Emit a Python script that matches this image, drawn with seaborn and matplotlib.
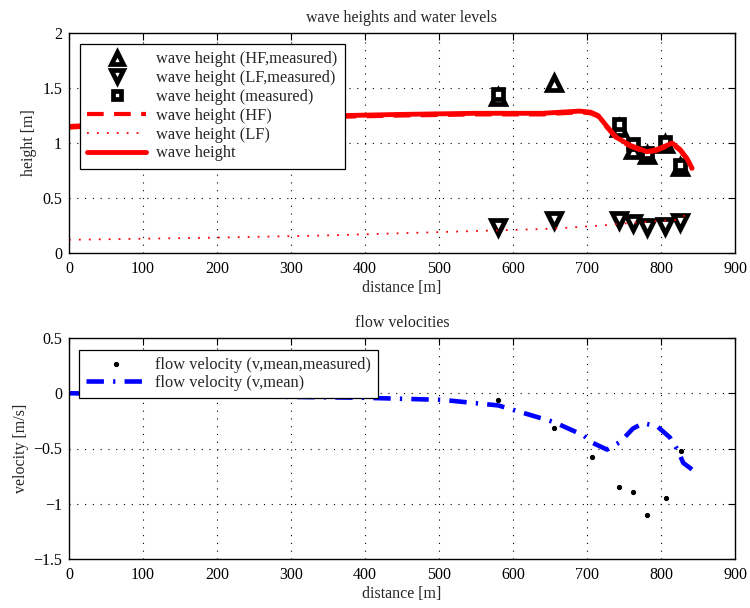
import numpy as np
import pandas as pd
import matplotlib
matplotlib.use("Agg")
import matplotlib.pyplot as plt
import seaborn as sns

sns.set_style("white")
plt.rcParams['font.family'] = ['Liberation Serif', 'DejaVu Serif']
plt.rcParams['font.size'] = 11.5
plt.rcParams['axes.unicode_minus'] = True

# ---- data: wave heights ----
meas_x = [580, 655, 743, 762, 781, 806, 826]
hf_meas = [1.42, 1.55, 1.14, 0.94, 0.89, 0.99, 0.78]
lf_meas = [0.24, 0.30, 0.30, 0.27, 0.24, 0.25, 0.28]
hs_meas_x = [580, 743, 762, 781, 806, 826]
hs_meas = [1.45, 1.17, 0.99, 0.91, 1.01, 0.80]

model_x = [0, 50, 100, 200, 300, 375, 450, 550, 640, 690, 705, 715, 727, 740, 758, 781, 794, 805, 815, 826, 835, 842]
hs_model = [1.15, 1.17, 1.19, 1.22, 1.24, 1.25, 1.26, 1.27, 1.27, 1.29, 1.28, 1.25, 1.15, 1.05, 0.98, 0.92, 0.94, 0.97, 1.00, 0.94, 0.86, 0.77]
hf_model = [1.14, 1.16, 1.18, 1.21, 1.23, 1.24, 1.25, 1.26, 1.26, 1.28, 1.27, 1.24, 1.14, 1.04, 0.97, 0.91, 0.93, 0.96, 0.99, 0.93, 0.85, 0.76]
lf_x = [0, 100, 200, 350, 450, 550, 650, 720, 770, 820, 835, 842]
lf_model = [0.12, 0.13, 0.14, 0.16, 0.18, 0.20, 0.22, 0.25, 0.28, 0.30, 0.35, 0.33]

# ---- data: velocities ----
vel_meas_x = [580, 655, 707, 743, 762, 781, 807, 827]
vel_meas = [-0.06, -0.31, -0.58, -0.85, -0.89, -1.10, -0.95, -0.52]
vel_x = [0, 100, 200, 258, 393, 505, 580, 655, 695, 708, 727, 745, 762, 776, 795, 812, 823, 830, 842]
vel_model = [0.0, -0.01, -0.02, -0.03, -0.04, -0.06, -0.11, -0.26, -0.38, -0.45, -0.51, -0.44, -0.32, -0.27, -0.30, -0.40, -0.52, -0.63, -0.69]

fig = plt.figure(figsize=(7.5, 6.08), dpi=100)
ax1 = fig.add_axes([69/750, 1-253/608, 666/750, 220/608])
ax2 = fig.add_axes([69/750, 1-559/608, 666/750, 221/608])

grid_kw = dict(color='black', linestyle=(0, (1, 6)), linewidth=0.8)
mk = dict(markerfacecolor='white', markeredgecolor='black', markeredgewidth=3.4)

# top panel
sns.lineplot(x=meas_x, y=hf_meas, ax=ax1, linestyle='none', marker='^', markersize=10,
             label='wave height (HF,measured)', estimator=None, sort=False, **mk)
sns.lineplot(x=meas_x, y=lf_meas, ax=ax1, linestyle='none', marker='v', markersize=10,
             label='wave height (LF,measured)', estimator=None, sort=False, **mk)
sns.lineplot(x=hs_meas_x, y=hs_meas, ax=ax1, linestyle='none', marker='s', markersize=7,
             label='wave height (measured)', estimator=None, sort=False, **mk)
sns.lineplot(x=model_x, y=hf_model, ax=ax1, color='red', linewidth=3, linestyle=(0, (4, 2.5)),
             label='wave height (HF)', estimator=None, sort=False)
sns.lineplot(x=lf_x, y=lf_model, ax=ax1, color='red', linewidth=1.3, linestyle=(0, (1, 4.5)),
             label='wave height (LF)', estimator=None, sort=False)
sns.lineplot(x=model_x, y=hs_model, ax=ax1, color='red', linewidth=3.5,
             label='wave height', estimator=None, sort=False)

ax1.set_xlim(0, 900)
ax1.set_ylim(0, 2)
ax1.set_xticks(range(0, 901, 100))
ax1.set_yticks([0, 0.5, 1, 1.5, 2])
ax1.set_yticklabels(['0', '0.5', '1', '1.5', '2'])
ax1.set_xlabel('distance [m]', labelpad=2)
ax1.set_ylabel('height [m]', labelpad=4)
ax1.set_title('wave heights and water levels', fontsize=11.5, pad=8)
leg1 = ax1.legend(loc='upper left', bbox_to_anchor=(11/666, 1-11/220), borderaxespad=0,
                  frameon=True, fancybox=False, markerscale=0.85,
                  edgecolor='black', framealpha=1, handlelength=3.6, handletextpad=0.6,
                  borderpad=0.45, labelspacing=0.17, fontsize=11.8)
leg1.get_frame().set_linewidth(0.9)

# bottom panel
sns.lineplot(x=vel_meas_x, y=vel_meas, ax=ax2, linestyle='none', marker='o', markersize=3,
             markerfacecolor='black', markeredgecolor='black',
             label='flow velocity (v,mean,measured)', estimator=None, sort=False)
sns.lineplot(x=vel_x, y=vel_model, ax=ax2, color='blue', linewidth=3.3,
             linestyle=(0, (3.8, 2, 0.5, 2)),
             label='flow velocity (v,mean)', estimator=None, sort=False)
ax2.set_xlim(0, 900)
ax2.set_ylim(-1.5, 0.5)
ax2.set_xticks(range(0, 901, 100))
ax2.set_yticks([-1.5, -1, -0.5, 0, 0.5])
ax2.set_yticklabels(['\u22121.5', '\u22121', '\u22120.5', '0', '0.5'])
ax2.set_xlabel('distance [m]', labelpad=2)
ax2.set_ylabel('velocity [m/s]', labelpad=3)
ax2.set_title('flow velocities', fontsize=11.5, pad=8)
leg2 = ax2.legend(loc='upper left', bbox_to_anchor=(10/666, 1-12/221), borderaxespad=0,
                  frameon=True, fancybox=False,
                  edgecolor='black', framealpha=1, handlelength=3.6, handletextpad=0.6,
                  borderpad=0.45, labelspacing=0.1, fontsize=11.8)
leg2.get_frame().set_linewidth(0.9)

for ax in (ax1, ax2):
    ax.grid(True, **grid_kw)
    ax.set_axisbelow(True)
    for s in ax.spines.values():
        s.set_visible(True)
        s.set_color('black')
        s.set_linewidth(1.0)
    ax.tick_params(direction='in', length=5, width=0.8, top=True, right=True,
                   labelsize=11.5, colors='black')
    ax.tick_params(axis='x', pad=6)
    ax.tick_params(axis='y', pad=5)

fig.savefig('out.png', dpi=100)
